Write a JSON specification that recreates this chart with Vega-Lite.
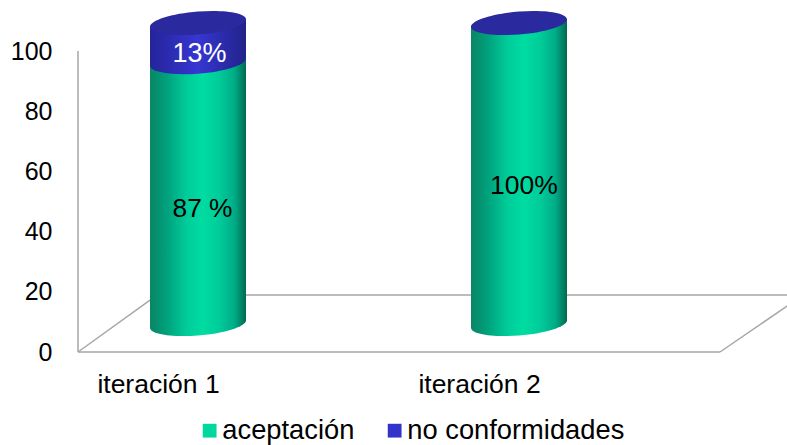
{
  "$schema": "https://vega.github.io/schema/vega-lite/v6.json",
  "width": 642,
  "height": 301,
  "autosize": "none",
  "padding": {"left": 78, "top": 51, "right": 67, "bottom": 93},
  "background": "white",
  "config": {"view": {"stroke": null}, "font": "Liberation Sans"},
  "datasets": {
    "resultados": [
      {"iteracion": "iteración 1", "serie": "aceptación", "orden": 1, "valor": 87, "etiqueta": "87 %"},
      {"iteracion": "iteración 1", "serie": "no conformidades", "orden": 2, "valor": 13, "etiqueta": "13%"},
      {"iteracion": "iteración 2", "serie": "aceptación", "orden": 1, "valor": 100, "etiqueta": "100%"},
      {"iteracion": "iteración 2", "serie": "no conformidades", "orden": 2, "valor": 0, "etiqueta": ""}
    ],
    "marco": [
      {"a": 0, "a2": 0, "v": 0, "v2": 100},
      {"a": 0, "a2": 2, "v": 0, "v2": 0},
      {"a": 0, "a2": 0.246, "v": 0, "v2": 18.9},
      {"a": 0.246, "a2": 2.3, "v": 18.9, "v2": 18.9},
      {"a": 2, "a2": 2.3, "v": 0, "v2": 21.9}
    ]
  },
  "resolve": {"scale": {"x": "independent"}, "axis": {"x": "independent"}},
  "layer": [
    {
      "data": {"name": "marco"},
      "mark": {"type": "rule", "color": "#A6A6A6", "strokeWidth": 1.5},
      "encoding": {
        "x": {"field": "a", "type": "quantitative", "scale": {"domain": [0, 2], "clamp": false}, "axis": null},
        "x2": {"field": "a2"},
        "y": {"field": "v", "type": "quantitative", "scale": {"domain": [0, 100], "nice": false},
          "axis": {"values": [0, 20, 40, 60, 80, 100], "domain": false, "ticks": false, "grid": false, "title": null,
            "labelFontSize": 25, "labelPadding": 26, "labelColor": "#000000"}},
        "y2": {"field": "v2"}
      }
    },
    {
      "data": {"name": "resultados"},
      "transform": [
        {"stack": "valor", "groupby": ["iteracion"], "sort": [{"field": "orden"}], "as": ["v0", "v1"]},
        {"calculate": "(datum.v0 + datum.v1) / 2", "as": "medio"}
      ],
      "encoding": {
        "x": {"field": "iteracion", "type": "nominal",
          "scale": {"paddingInner": 0, "paddingOuter": 0},
          "axis": {"domain": false, "ticks": false, "grid": false, "title": null, "labelAngle": 0,
            "labelOffset": -80, "labelFontSize": 26.5, "labelPadding": 19, "labelColor": "#000000"}}
      },
      "layer": [
        {
          "transform": [{"filter": "datum.serie === 'aceptación'"}],
          "mark": {"type": "point", "filled": true, "opacity": 1, "xOffset": -40.5, "yOffset": -28, "size": 9216,
            "shape": "M1,-0.14 L1,-0.078 C1,0.0545 .5523,.1969 0,.24 C-.5523,.2831 -1,.2105 -1,.078 L-1,-0.14 Z",
            "fill": {"gradient": "linear", "x1": 0, "x2": 1, "y1": 0, "y2": 0, "stops": [
              {"offset": 0, "color": "#0A8565"}, {"offset": 0.17, "color": "#00A07C"}, {"offset": 0.38, "color": "#00CC9A"}, {"offset": 0.55, "color": "#00DCA2"},
              {"offset": 0.72, "color": "#00CC9A"}, {"offset": 0.88, "color": "#00AC86"}, {"offset": 1, "color": "#006A50"}]}},
          "encoding": {"y": {"field": "v0", "type": "quantitative"}}
        },
        {
          "transform": [{"filter": "datum.valor > 0"}],
          "mark": {"type": "bar", "width": 88, "xOffset": -40.5, "yOffset": -36, "y2Offset": -20},
          "encoding": {
            "y": {"field": "v0", "type": "quantitative"},
            "y2": {"field": "v1"},
            "color": {"field": "serie", "type": "nominal",
              "scale": {"domain": ["aceptación", "no conformidades"], "range": ["#00D89E", "#3333CC"]},
              "legend": {"orient": "none", "legendX": 118, "legendY": 366, "direction": "horizontal", "title": null,
                "symbolType": "square", "symbolSize": 190, "symbolOpacity": 1, "labelFontSize": 27.3, "labelColor": "#000000",
                "labelOffset": -1, "columnPadding": 26, "labelLimit": 300}}
          }
        },
        {
          "transform": [{"filter": "datum.serie === 'aceptación'"}],
          "mark": {"type": "bar", "width": 96, "xOffset": -40.5, "yOffset": -31.75, "y2Offset": -24.25,
            "fill": {"gradient": "linear", "x1": 0, "x2": 1, "y1": 0, "y2": 0, "stops": [
              {"offset": 0, "color": "#0A8565"}, {"offset": 0.17, "color": "#00A07C"}, {"offset": 0.38, "color": "#00CC9A"}, {"offset": 0.55, "color": "#00DCA2"},
              {"offset": 0.72, "color": "#00CC9A"}, {"offset": 0.88, "color": "#00AC86"}, {"offset": 1, "color": "#006A50"}]}},
          "encoding": {"y": {"field": "v0", "type": "quantitative"}, "y2": {"field": "v1"}}
        },
        {
          "transform": [{"filter": "datum.serie === 'aceptación'"}],
          "mark": {"type": "point", "filled": true, "opacity": 1, "xOffset": -40.5, "yOffset": -28, "size": 9216,
            "shape": "M-1,0.078 L1,-0.078 L1,0.14 L-1,0.14 Z",
            "fill": {"gradient": "linear", "x1": 0, "x2": 1, "y1": 0, "y2": 0, "stops": [
              {"offset": 0, "color": "#0A8565"}, {"offset": 0.17, "color": "#00A07C"}, {"offset": 0.38, "color": "#00CC9A"}, {"offset": 0.55, "color": "#00DCA2"},
              {"offset": 0.72, "color": "#00CC9A"}, {"offset": 0.88, "color": "#00AC86"}, {"offset": 1, "color": "#006A50"}]}},
          "encoding": {"y": {"field": "v1", "type": "quantitative"}}
        },
        {
          "transform": [{"filter": "datum.serie === 'no conformidades' && datum.valor > 0"}],
          "mark": {"type": "point", "filled": true, "opacity": 1, "xOffset": -40.5, "yOffset": -28, "size": 9216,
            "shape": "M1,-0.14 L1,-0.078 C1,0.0545 .5523,.1969 0,.24 C-.5523,.2831 -1,.2105 -1,.078 L-1,-0.14 Z",
            "fill": {"gradient": "linear", "x1": 0, "x2": 1, "y1": 0, "y2": 0, "stops": [
              {"offset": 0, "color": "#24249A"}, {"offset": 0.5, "color": "#3636D2"}, {"offset": 1, "color": "#22228A"}]}},
          "encoding": {"y": {"field": "v0", "type": "quantitative"}}
        },
        {
          "transform": [{"filter": "datum.serie === 'no conformidades' && datum.valor > 0"}],
          "mark": {"type": "bar", "width": 96, "xOffset": -40.5, "yOffset": -31.75, "y2Offset": -24.25,
            "fill": {"gradient": "linear", "x1": 0, "x2": 1, "y1": 0, "y2": 0, "stops": [
              {"offset": 0, "color": "#24249A"}, {"offset": 0.5, "color": "#3636D2"}, {"offset": 1, "color": "#22228A"}]}},
          "encoding": {"y": {"field": "v0", "type": "quantitative"}, "y2": {"field": "v1"}}
        },
        {
          "transform": [{"filter": "datum.serie === 'no conformidades' && datum.valor > 0"}],
          "mark": {"type": "point", "filled": true, "opacity": 1, "xOffset": -40.5, "yOffset": -28, "size": 9216,
            "shape": "M-1,0.078 L1,-0.078 L1,0.14 L-1,0.14 Z",
            "fill": {"gradient": "linear", "x1": 0, "x2": 1, "y1": 0, "y2": 0, "stops": [
              {"offset": 0, "color": "#24249A"}, {"offset": 0.5, "color": "#3636D2"}, {"offset": 1, "color": "#22228A"}]}},
          "encoding": {"y": {"field": "v1", "type": "quantitative"}}
        },
        {
          "transform": [{"filter": "datum.serie === 'no conformidades'"}],
          "mark": {"type": "point", "filled": true, "opacity": 1, "color": "#2A2A9E", "xOffset": -40.5, "yOffset": -28, "size": 9216,
            "shape": "M1,-0.078 C1,0.0545 .5523,.1969 0,.24 C-.5523,.2831 -1,.2105 -1,.078 C-1,-.0545 -.5523,-.1969 0,-.24 C.5523,-.2831 1,-.2105 1,-.078 Z"},
          "encoding": {"y": {"field": "v1", "type": "quantitative"}}
        },
        {
          "transform": [{"filter": "datum.etiqueta === '87 %'"}],
          "mark": {"type": "text", "fontSize": 26.3, "color": "#000000", "xOffset": -36, "yOffset": -12},
          "encoding": {"y": {"field": "medio", "type": "quantitative"}, "text": {"field": "etiqueta"}}
        },
        {
          "transform": [{"filter": "datum.etiqueta === '13%'"}],
          "mark": {"type": "text", "fontSize": 27, "color": "#FFFFFF", "xOffset": -39, "yOffset": -17},
          "encoding": {"y": {"field": "medio", "type": "quantitative"}, "text": {"field": "etiqueta"}}
        },
        {
          "transform": [{"filter": "datum.etiqueta === '100%'"}],
          "mark": {"type": "text", "fontSize": 26.5, "color": "#000000", "xOffset": -35.5, "yOffset": -15.5},
          "encoding": {"y": {"field": "medio", "type": "quantitative"}, "text": {"field": "etiqueta"}}
        }
      ]
    }
  ]
}
